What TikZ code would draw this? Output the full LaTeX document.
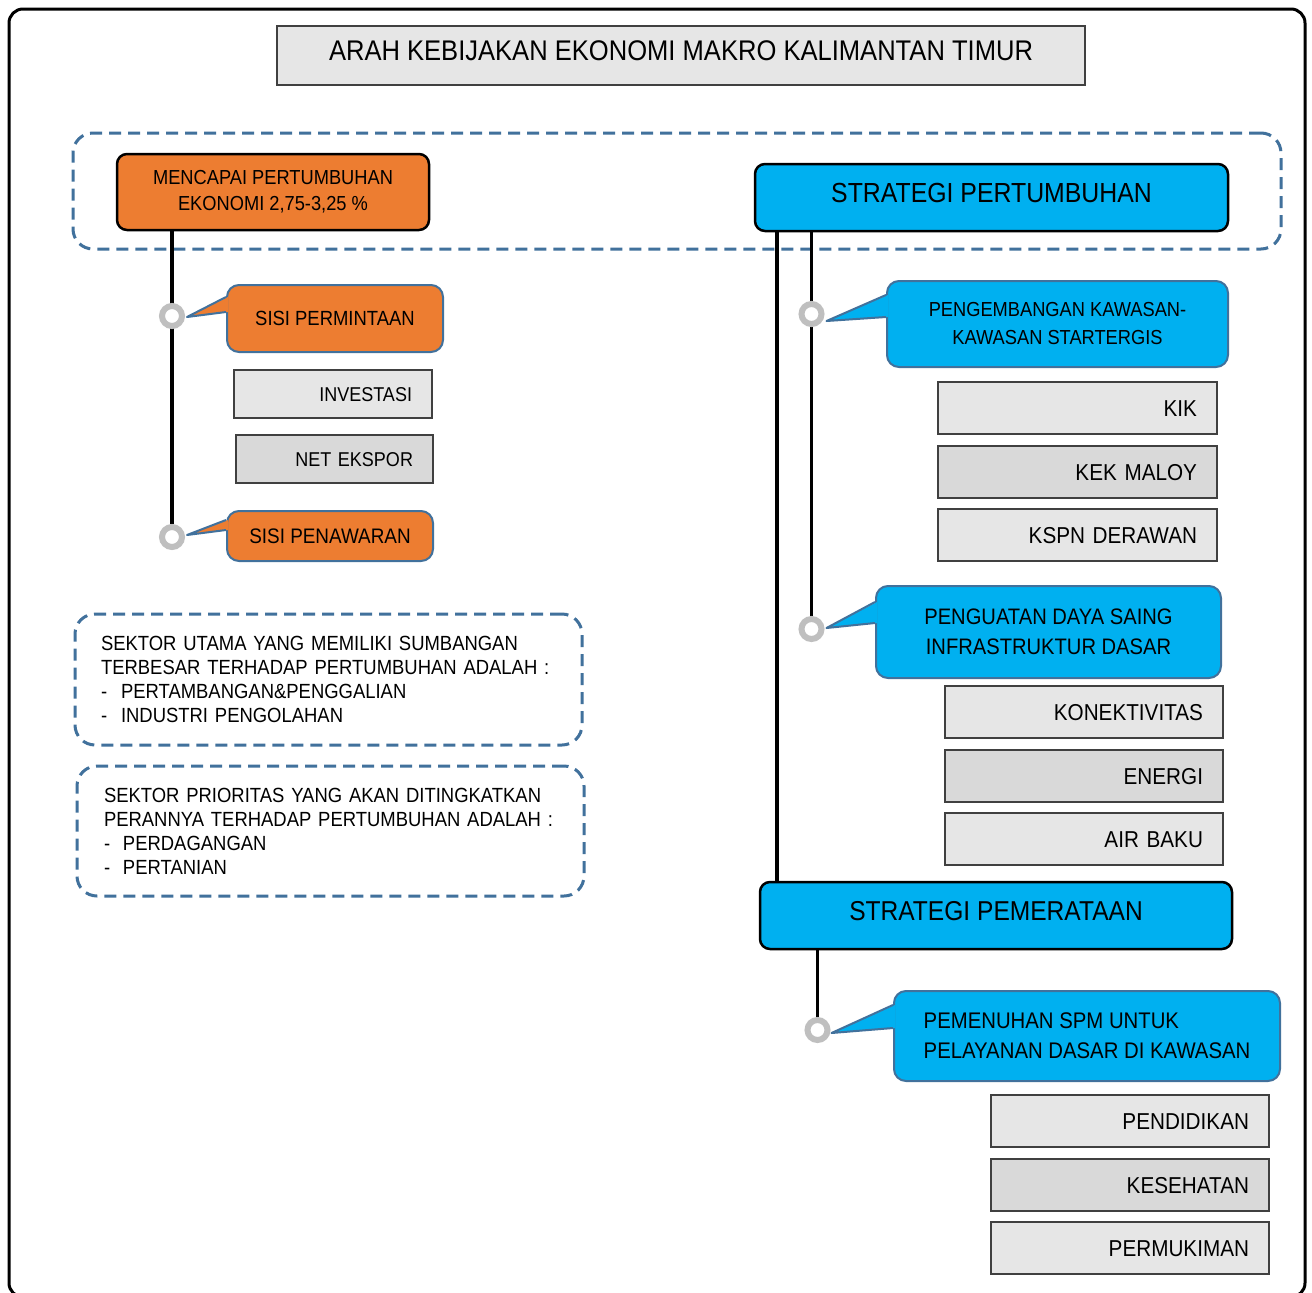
\documentclass[tikz,border=0pt]{standalone}
\usepackage{fontspec}
\setmainfont{Liberation Sans}[FakeStretch=0.9]
\usetikzlibrary{calc,backgrounds}
\definecolor{orng}{HTML}{ED7D31}
\definecolor{cyanb}{HTML}{00B0F0}
\definecolor{steel}{HTML}{41719C}
\definecolor{lgray}{HTML}{E6E6E6}
\definecolor{mgray}{HTML}{D9D9D9}
\definecolor{ringgray}{HTML}{BFBFBF}
\definecolor{edgegray}{HTML}{404040}
\newcommand\calloutptr[5]{%
  \fill[#5] ($(#1.west)+(2,#3)$) -- (#2) -- ($(#1.west)+(2,#4)$) -- cycle;
  \draw[steel, line width=2pt, line join=round] ($(#1.west)+(0,#3)$) -- (#2) -- ($(#1.west)+(0,#4)$);
}
\begin{document}
\begin{tikzpicture}[x=1pt, y=-1pt,
  bigbox/.style={draw=black, line width=2.5pt, rounded corners=10pt, inner sep=0pt},
  callbox/.style={draw=steel, line width=2pt, rounded corners=12pt, inner sep=0pt},
  graybox/.style={draw=edgegray, line width=1.3pt, inner xsep=20pt, inner ysep=0pt, align=right, minimum height=52pt, text depth=0pt},
  leftgray/.style={graybox, minimum height=48pt, font=\fontsize{20}{24}\selectfont, text height=14.3pt},
  rightgray/.style={graybox, font=\fontsize{23}{27}\selectfont, text height=16.5pt},
  ring/.style={circle, draw=ringgray, line width=6pt, fill=white, minimum size=20pt, inner sep=0pt},
  conn/.style={line width=3.5pt, black},
  grpbox/.style={draw=steel, line width=3pt, dash pattern=on 12pt off 7pt, rounded corners=20pt, inner sep=0pt},
  bodyfont/.style={font=\fontsize{20.5}{24}\selectfont}
]
\useasboundingbox (0,0) rectangle (1312,1293);

% title
\node[draw=edgegray, line width=1.3pt, fill=lgray, minimum width=808pt, minimum height=59pt, inner sep=0pt,
      font=\fontsize{28.4}{34}\selectfont, text height=20.3pt, text depth=10pt] (title) at (681,55.5)
      {ARAH KEBIJAKAN EKONOMI MAKRO KALIMANTAN TIMUR};

% top boxes
\node[bigbox, fill=orng, minimum width=312pt, minimum height=76pt, align=center,
      font=\fontsize{20.3}{26}\selectfont] (goal) at (273,192)
      {MENCAPAI PERTUMBUHAN\\EKONOMI 2,75-3,25 \%};
\node[bigbox, fill=cyanb, minimum width=473pt, minimum height=67pt,
      font=\fontsize{27.6}{33}\selectfont, text height=19.8pt, text depth=10pt] (strat1) at (991.5,197.5)
      {STRATEGI PERTUMBUHAN};

% rings
\node[ring] (c1) at (172,316) {};
\node[ring] (c2) at (172,537) {};
\node[ring] (c3) at (811.5,314) {};
\node[ring] (c4) at (811.5,629) {};
\node[ring] (c5) at (817.5,1030) {};

% left callouts
\node[callbox, fill=orng, minimum width=216pt, minimum height=67pt, bodyfont, text height=14.7pt, text depth=0pt] (sisiP) at (335,318.5) {SISI PERMINTAAN};
\calloutptr{sisiP}{$(c1.east)+(2,1)$}{-21.5}{-6.5}{orng}
\node[leftgray, fill=lgray, minimum width=198pt, text width=158pt] (inv) at (333,394) {INVESTASI};
\node[leftgray, fill=mgray, minimum width=197pt, text width=157pt] (net) at (334.5,459) {NET EKSPOR};
\node[callbox, fill=orng, minimum width=206pt, minimum height=50pt, font=\fontsize{21}{25}\selectfont, text height=15pt, text depth=0pt] (sisiW) at (330,536) {SISI PENAWARAN};
\calloutptr{sisiW}{$(c2.east)+(2,-2)$}{-16}{-6}{orng}

% dashed text boxes
\node[grpbox, minimum width=507pt, minimum height=131pt, text width=455pt, inner xsep=26pt, align=left, bodyfont] (d1) at (328.5,679.5)
  {SEKTOR UTAMA YANG MEMILIKI SUMBANGAN\\
   TERBESAR TERHADAP PERTUMBUHAN ADALAH :\\
   \makebox[20pt][l]{-}PERTAMBANGAN\&PENGGALIAN\\
   \makebox[20pt][l]{-}INDUSTRI PENGOLAHAN};
\node[grpbox, minimum width=507pt, minimum height=130pt, text width=453pt, inner xsep=27pt, align=left, bodyfont] (d2) at (330.5,831)
  {SEKTOR PRIORITAS YANG AKAN DITINGKATKAN\\
   PERANNYA TERHADAP PERTUMBUHAN ADALAH :\\
   \makebox[19pt][l]{-}PERDAGANGAN\\
   \makebox[19pt][l]{-}PERTANIAN};

% right: strategi pertumbuhan
\node[callbox, fill=cyanb, minimum width=341pt, minimum height=86pt, align=center,
      font=\fontsize{20.3}{28}\selectfont] (peng) at (1057.5,324)
      {PENGEMBANGAN KAWASAN-\\KAWASAN STARTERGIS};
\calloutptr{peng}{$(c3.east)+(2,7)$}{-29}{-7}{cyanb}
\node[rightgray, fill=lgray, minimum width=279pt, text width=239pt] (kik) at (1077.5,408) {KIK};
\node[rightgray, fill=mgray, minimum width=279pt, text width=239pt] (kek) at (1077.5,472) {KEK MALOY};
\node[rightgray, fill=lgray, minimum width=279pt, text width=239pt] (kspn) at (1077.5,535) {KSPN DERAWAN};

\node[callbox, fill=cyanb, minimum width=345pt, minimum height=92pt, align=center,
      font=\fontsize{22.4}{30}\selectfont] (pgt) at (1048.5,632)
      {PENGUATAN DAYA SAING\\INFRASTRUKTUR DASAR};
\calloutptr{pgt}{$(c4.east)+(2,-1)$}{-30}{-9}{cyanb}
\node[rightgray, fill=lgray, minimum width=278pt, text width=238pt] (kon) at (1084,712) {KONEKTIVITAS};
\node[rightgray, fill=mgray, minimum width=278pt, text width=238pt] (ene) at (1084,776) {ENERGI};
\node[rightgray, fill=lgray, minimum width=278pt, text width=238pt] (air) at (1084,839) {AIR BAKU};

% strategi pemerataan
\node[bigbox, fill=cyanb, minimum width=472pt, minimum height=67pt,
      font=\fontsize{27.3}{33}\selectfont, text height=19.5pt, text depth=10pt] (strat2) at (996,915.5)
      {STRATEGI PEMERATAAN};
\node[callbox, fill=cyanb, minimum width=386pt, minimum height=90pt, inner xsep=20pt, align=left,
      font=\fontsize{22.6}{30}\selectfont] (pem) at (1087,1036)
      {PEMENUHAN SPM UNTUK\\PELAYANAN DASAR DI KAWASAN};
\calloutptr{pem}{$(c5.east)+(1,3)$}{-31}{-8}{cyanb}
\node[rightgray, fill=lgray, minimum width=278pt, text width=238pt] (pend) at (1130,1121) {PENDIDIKAN};
\node[rightgray, fill=mgray, minimum width=278pt, text width=238pt] (kes) at (1130,1185) {KESEHATAN};
\node[rightgray, fill=lgray, minimum width=278pt, text width=238pt] (perm) at (1130,1248) {PERMUKIMAN};

\coordinate (rx) at (777,0);

\begin{scope}[on background layer]
  \fill[white] (0,0) rectangle (1312,1293);
  \draw[line width=3pt, rounded corners=14pt] (9,9) rectangle (1305,1297);
  \node[grpbox, minimum width=1208pt, minimum height=116pt] (grp) at (677,191) {};
  \draw[conn] (goal.south -| c1) -- (c2);
  \draw[conn] (strat1.south -| rx) -- (strat2.north -| rx);
  \draw[conn] (strat1.south -| c3) -- (c4);
  \draw[conn] (strat2.south -| c5) -- (c5);
\end{scope}
\end{tikzpicture}
\end{document}
